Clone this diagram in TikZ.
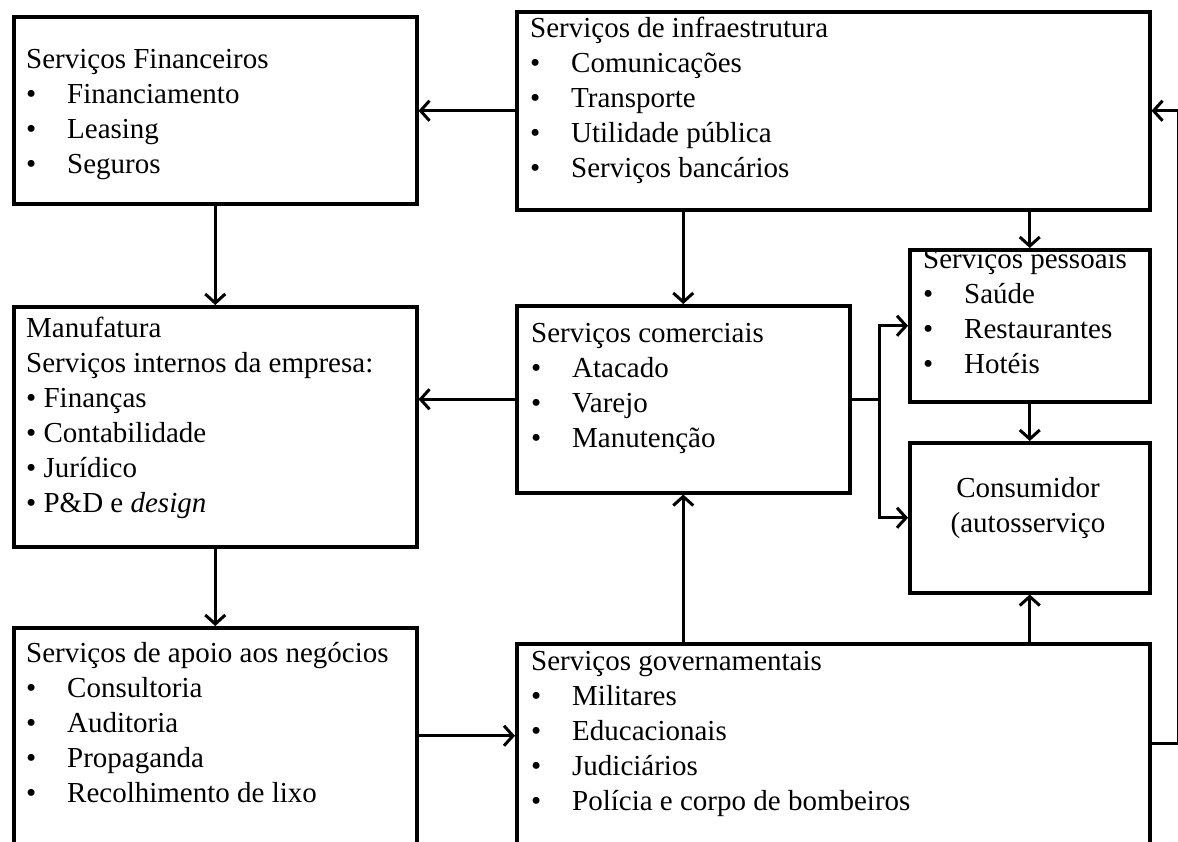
\documentclass[tikz,border=0pt]{standalone}
\usepackage{fontspec}
\setmainfont{Liberation Serif}
\usetikzlibrary{arrows.meta}

\tikzset{
  box/.style={draw, line width=3.5pt, rectangle, inner sep=0pt, anchor=north west},
  txt/.style={anchor=base west, inner sep=0pt, font=\fontsize{29}{35}\selectfont},
  flow/.style={line width=3pt, -{Straight Barb[length=9pt,width=20pt,line width=3pt]}}
}
\newcommand{\itm}[1]{\makebox[41pt][l]{\textbullet}#1}
\newcommand{\lines}[2][l]{\begin{tabular}[t]{@{}#1@{}}#2\end{tabular}}

\begin{document}
\begin{tikzpicture}[x=1pt, y=-1pt]
        \useasboundingbox (0,0) rectangle (1178,841);
        \clip (0,0) rectangle (1178,841);

        % Draw the boxes
        \node[box, minimum width=403pt, minimum height=187pt] (fin) at (12,15) {};
        \node[box, minimum width=633pt, minimum height=198pt] (infra) at (515,10) {};
        \node[box, minimum width=403pt, minimum height=240pt] (manuf) at (12,305) {};
        \node[box, minimum width=333pt, minimum height=187pt] (com) at (515,304) {};
        \node[box, minimum width=240pt, minimum height=152pt] (pess) at (908,248) {};
        \node[box, minimum width=240pt, minimum height=150pt] (cons) at (908,441) {};
        \node[box, minimum width=403pt, minimum height=216pt] (apoio) at (12,626) {};
        \node[box, minimum width=633pt, minimum height=200pt] (gov) at (515,642) {};

        % Texts in the boxes
        \node[txt] (fintxt) at (26,68) {\lines{Serviços Financeiros\\
          \itm{Financiamento}\\ \itm{Leasing}\\ \itm{Seguros}}};
        \node[txt] (infratxt) at (530,37) {\lines{Serviços de infraestrutura\\
          \itm{Comunicações}\\ \itm{Transporte}\\ \itm{Utilidade pública}\\ \itm{Serviços bancários}}};
        \node[txt] (manuftxt) at (26,337) {\lines{Manufatura\\ Serviços internos da empresa:\\
          \textbullet\ Finanças\\ \textbullet\ Contabilidade\\ \textbullet\ Jurídico\\
          \textbullet\ P\&D e \textit{design}}};
        \node[txt] (comtxt) at (531,342) {\lines{Serviços comerciais\\
          \itm{Atacado}\\ \itm{Varejo}\\ \itm{Manutenção}}};
        \node[txt] (pesstxt) at (923,268) {\lines{Serviços pessoais\\
          \itm{Saúde}\\ \itm{Restaurantes}\\ \itm{Hotéis}}};
        \node[txt, anchor=base] (constxt) at (1028,497) {\lines[c]{Consumidor\\ (autosserviço}};
        \node[txt] (apoiotxt) at (26,662) {\lines{Serviços de apoio aos negócios\\
          \itm{Consultoria}\\ \itm{Auditoria}\\ \itm{Propaganda}\\ \itm{Recolhimento de lixo}}};
        \node[txt] (govtxt) at (531,670) {\lines{Serviços governamentais\\
          \itm{Militares}\\ \itm{Educacionais}\\ \itm{Judiciários}\\ \itm{Polícia e corpo de bombeiros}}};

        % Draw the connectors
        \draw[flow] (infra.west) -- (infra.west -| fin.east);
        \draw[flow] (fin) -- (manuf);
        \draw[flow] (com.west) -- (com.west -| manuf.east);
        \draw[flow] (manuf) -- (apoio);
        \draw[flow] (apoio.east) -- (apoio.east -| gov.west);
        \draw[flow] (infra.south -| com.north) -- (com.north);
        \draw[flow] (infra.south -| pess.north) -- (pess.north);
        \draw[flow] (pess) -- (cons);
        \draw[flow] (gov.north -| com.south) -- (com.south);
        \draw[flow] (gov.north -| cons.south) -- (cons.south);
        \draw[flow] (com.east) -- ++(28,0) |- (pess.west);
        \draw[flow] (com.east) -- ++(28,0) |- (cons.west);
        \draw[flow] (gov.east) -- ++(27,0) |- (infra.east);
    \end{tikzpicture}
\end{document}
